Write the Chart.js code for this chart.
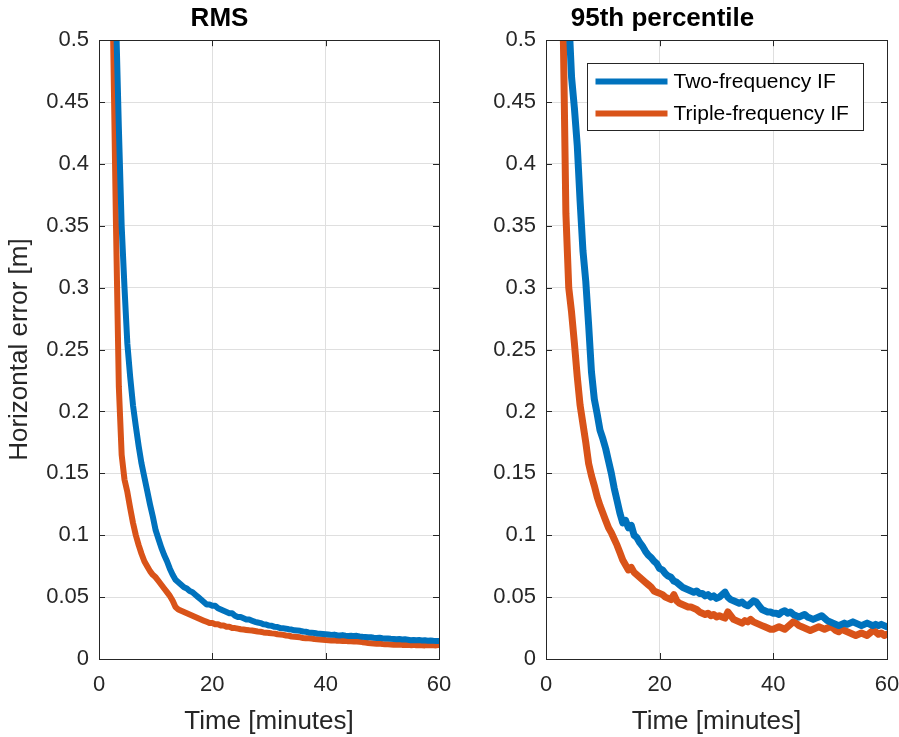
<!DOCTYPE html>
<html><head><meta charset="utf-8">
<script src="https://cdn.jsdelivr.net/npm/chart.js@4.4.1/dist/chart.umd.min.js"></script>
<style>
html,body{margin:0;padding:0;background:#fff;}
#wrap{position:relative;width:899px;height:737px;overflow:hidden;background:#fff;}
.pane{position:absolute;top:0;height:737px;}
#p1{left:0;width:462px;}
#p2{left:438px;width:461px;}
canvas{display:block;}
</style></head><body>
<div id="wrap">
<div class="pane" id="p1"><canvas id="c1" width="462" height="737"></canvas></div>
<div class="pane" id="p2"><canvas id="c2" width="461" height="737"></canvas></div>
</div>
<script>
// Time axis (minutes)
const times = [
  2, 2.5, 3, 3.5, 4, 4.5, 5, 5.5, 6, 6.5,
  7, 7.5, 8, 8.5, 9, 9.5, 10, 10.5, 11, 11.5,
  12, 12.5, 13, 13.5, 14, 14.5, 15, 15.5, 16, 16.5,
  17, 17.5, 18, 18.5, 19, 19.5, 20, 20.5, 21, 21.5,
  22, 22.5, 23, 23.5, 24, 24.5, 25, 25.5, 26, 26.5,
  27, 27.5, 28, 28.5, 29, 29.5, 30, 30.5, 31, 31.5,
  32, 32.5, 33, 33.5, 34, 34.5, 35, 35.5, 36, 36.5,
  37, 37.5, 38, 38.5, 39, 39.5, 40, 40.5, 41, 41.5,
  42, 42.5, 43, 43.5, 44, 44.5, 45, 45.5, 46, 46.5,
  47, 47.5, 48, 48.5, 49, 49.5, 50, 50.5, 51, 51.5,
  52, 52.5, 53, 53.5, 54, 54.5, 55, 55.5, 56, 56.5,
  57, 57.5, 58, 58.5, 59, 59.5, 60
];

// RMS panel
const rmsTwoFreq = [
  0.75, 0.62, 0.52, 0.43, 0.35, 0.30, 0.255, 0.228, 0.205, 0.188,
  0.172, 0.158, 0.147, 0.136, 0.125, 0.115, 0.104, 0.097, 0.090, 0.084,
  0.079, 0.073, 0.068, 0.064, 0.062, 0.060, 0.058, 0.057, 0.055, 0.054,
  0.052, 0.050, 0.048, 0.046, 0.044, 0.044, 0.043, 0.043, 0.041, 0.040,
  0.039, 0.038, 0.037, 0.037, 0.035, 0.034, 0.034, 0.033, 0.032, 0.032,
  0.031, 0.030, 0.0295, 0.029, 0.028, 0.0278, 0.027, 0.0268, 0.026, 0.0258,
  0.025, 0.0248, 0.0245, 0.024, 0.0238, 0.0232, 0.023, 0.0228, 0.0222, 0.022,
  0.0215, 0.0213, 0.021, 0.0206, 0.0204, 0.0202, 0.0200, 0.0198, 0.0195, 0.0197,
  0.0192, 0.0190, 0.0193, 0.0189, 0.0186, 0.0188, 0.0185, 0.0187, 0.0183, 0.0180,
  0.0178, 0.0176, 0.0175, 0.0172, 0.0170, 0.0172, 0.0168, 0.0166, 0.0165, 0.0163,
  0.0162, 0.0160, 0.0161, 0.0158, 0.0159, 0.0156, 0.0152, 0.0154, 0.0151, 0.0153,
  0.0150, 0.0152, 0.0148, 0.0149, 0.0147, 0.0146, 0.0145
];
const rmsTripleFreq = [
  0.80, 0.50, 0.35, 0.22, 0.165, 0.145, 0.135, 0.122, 0.110, 0.100,
  0.092, 0.085, 0.079, 0.075, 0.071, 0.068, 0.066, 0.063, 0.060, 0.057,
  0.054, 0.051, 0.047, 0.042, 0.040, 0.039, 0.038, 0.037, 0.036, 0.035,
  0.034, 0.033, 0.032, 0.031, 0.030, 0.029, 0.029, 0.028, 0.028, 0.027,
  0.027, 0.026, 0.026, 0.025, 0.025, 0.0245, 0.024, 0.0238, 0.0235, 0.0232,
  0.023, 0.0226, 0.0222, 0.022, 0.0215, 0.0213, 0.021, 0.0207, 0.0205, 0.020,
  0.0198, 0.0195, 0.019, 0.0188, 0.0182, 0.018, 0.0178, 0.0175, 0.017, 0.0168,
  0.0167, 0.0165, 0.0162, 0.016, 0.0158, 0.0155, 0.0153, 0.0152, 0.015, 0.0151,
  0.0148, 0.0147, 0.0146, 0.0148, 0.0144, 0.0143, 0.0141, 0.0142, 0.014, 0.0136,
  0.0133, 0.013, 0.0128, 0.0126, 0.0124, 0.0125, 0.0122, 0.012, 0.0119, 0.0118,
  0.0116, 0.0115, 0.0117, 0.0114, 0.0113, 0.0115, 0.0112, 0.0114, 0.0111, 0.0113,
  0.0112, 0.0110, 0.0113, 0.0111, 0.0112, 0.0110, 0.0113
];

// 95th percentile panel
const p95TwoFreq = [
  0.90, 0.75, 0.64, 0.58, 0.52, 0.47, 0.445, 0.415, 0.37, 0.33,
  0.305, 0.27, 0.232, 0.21, 0.198, 0.185, 0.178, 0.170, 0.160, 0.150,
  0.138, 0.128, 0.118, 0.110, 0.112, 0.106, 0.108, 0.100, 0.098, 0.094,
  0.091, 0.087, 0.084, 0.082, 0.079, 0.077, 0.073, 0.072, 0.069, 0.067,
  0.066, 0.063, 0.062, 0.060, 0.058, 0.057, 0.056, 0.055, 0.054, 0.055,
  0.053, 0.053, 0.051, 0.052, 0.050, 0.051, 0.049, 0.050, 0.052, 0.054,
  0.050, 0.048, 0.047, 0.046, 0.045, 0.046, 0.044, 0.043, 0.045, 0.047,
  0.046, 0.043, 0.040, 0.039, 0.038, 0.038, 0.037, 0.037, 0.036, 0.038,
  0.039, 0.037, 0.038, 0.036, 0.035, 0.034, 0.035, 0.036, 0.034, 0.033,
  0.032, 0.033, 0.034, 0.035, 0.033, 0.031, 0.030, 0.029, 0.028, 0.027,
  0.028, 0.029, 0.028, 0.029, 0.030, 0.029, 0.028, 0.027, 0.028, 0.029,
  0.028, 0.027, 0.028, 0.027, 0.028, 0.027, 0.026
];
const p95TripleFreq = [
  0.95, 0.70, 0.52, 0.36, 0.30, 0.28, 0.255, 0.228, 0.205, 0.19,
  0.175, 0.158, 0.148, 0.140, 0.131, 0.124, 0.118, 0.112, 0.106, 0.102,
  0.097, 0.092, 0.086, 0.080, 0.076, 0.072, 0.074, 0.070, 0.068, 0.066,
  0.064, 0.062, 0.060, 0.058, 0.055, 0.054, 0.053, 0.052, 0.050, 0.049,
  0.048, 0.052, 0.047, 0.045, 0.044, 0.043, 0.042, 0.042, 0.041, 0.040,
  0.038, 0.037, 0.036, 0.037, 0.035, 0.036, 0.034, 0.035, 0.034, 0.033,
  0.038, 0.035, 0.032, 0.031, 0.030, 0.029, 0.031, 0.030, 0.032, 0.030,
  0.029, 0.028, 0.027, 0.026, 0.025, 0.024, 0.024, 0.025, 0.026, 0.025,
  0.024, 0.026, 0.028, 0.030, 0.029, 0.027, 0.026, 0.025, 0.024, 0.023,
  0.024, 0.025, 0.026, 0.025, 0.024, 0.025, 0.026, 0.025, 0.023, 0.022,
  0.024, 0.023, 0.022, 0.021, 0.020, 0.019, 0.020, 0.021, 0.020, 0.019,
  0.021, 0.023, 0.022, 0.020, 0.021, 0.019, 0.020
];

const seriesLabels = ['Two-frequency IF', 'Triple-frequency IF'];
const panelTitles = ['RMS', '95th percentile'];
const xTitle = 'Time [minutes]';
const yTitle = 'Horizontal error [m]';

const BLUE = '#0072BD', ORANGE = '#D95319', AX = '#262626';
const FONT = "'Liberation Sans', Arial, Helvetica, sans-serif";

const framePlugin = {
  id: 'frame',
  afterDatasetsDraw(chart, args, opts) {
    const {ctx, chartArea: a} = chart;
    const xs = chart.scales.x, ys = chart.scales.y;
    ctx.save();
    ctx.strokeStyle = AX; ctx.lineWidth = 1;
    const tl = 6;
    ctx.beginPath();
    xs.ticks.forEach(t => {
      const px = Math.round(xs.getPixelForValue(t.value)) + 0.5;
      ctx.moveTo(px, a.bottom); ctx.lineTo(px, a.bottom - tl);
      ctx.moveTo(px, a.top); ctx.lineTo(px, a.top + tl);
    });
    ys.ticks.forEach(t => {
      const py = Math.round(ys.getPixelForValue(t.value)) + 0.5;
      ctx.moveTo(a.left, py); ctx.lineTo(a.left + tl, py);
      ctx.moveTo(a.right, py); ctx.lineTo(a.right - tl, py);
    });
    ctx.stroke();
    ctx.strokeRect(Math.round(a.left) + 0.5, Math.round(a.top) + 0.5,
                   Math.round(a.right - a.left), Math.round(a.bottom - a.top));
    if (opts && opts.legend) {
      const bx = Math.round(a.left + 41) + 0.5, by = Math.round(a.top + 23) + 0.5;
      const bw = 276, bh = 67;
      ctx.fillStyle = '#fff';
      ctx.fillRect(bx, by, bw, bh);
      ctx.strokeStyle = AX; ctx.lineWidth = 1;
      ctx.strokeRect(bx, by, bw, bh);
      ctx.font = '21px ' + FONT;
      ctx.textBaseline = 'middle';
      ctx.textAlign = 'left';
      chart.data.datasets.forEach((ds, i) => {
        const ly = by + 18 + i * 32;
        ctx.strokeStyle = ds.borderColor; ctx.lineWidth = 6;
        ctx.beginPath(); ctx.moveTo(bx + 8, ly); ctx.lineTo(bx + 80, ly); ctx.stroke();
        ctx.fillStyle = '#000';
        ctx.fillText(ds.label, bx + 86, ly + 1);
      });
    }
    ctx.restore();
  }
};

function pts(vals) { return times.map((t, i) => ({x: t, y: vals[i]})); }

function makeChart(id, title, a, b, yAxisWidth, padRight, showYTitle, showLegend, lw) {
  return new Chart(document.getElementById(id), {
    type: 'line',
    data: {
      datasets: [
        {label: seriesLabels[0], data: pts(a), borderColor: BLUE, backgroundColor: BLUE,
         borderWidth: lw, pointRadius: 0, tension: 0, clip: 0, borderJoinStyle: 'round', borderCapStyle: 'round'},
        {label: seriesLabels[1], data: pts(b), borderColor: ORANGE, backgroundColor: ORANGE,
         borderWidth: lw, pointRadius: 0, tension: 0, clip: 0, borderJoinStyle: 'round', borderCapStyle: 'round'}
      ]
    },
    options: {
      responsive: false,
      animation: false,
      devicePixelRatio: 1,
      layout: {padding: {left: 0, right: padRight, top: 0, bottom: 0}},
      plugins: {
        legend: {display: false},
        tooltip: {enabled: false},
        title: {display: true, text: title, color: '#000',
                font: {family: FONT, size: 26, weight: 'bold', lineHeight: 1.2},
                padding: {top: 3, bottom: 6}},
        frame: {legend: showLegend}
      },
      scales: {
        x: {
          type: 'linear', min: 0, max: 60,
          ticks: {stepSize: 20, color: AX, padding: 13, font: {family: FONT, size: 22}, maxRotation: 0},
          grid: {color: '#dfdfdf', lineWidth: 1, drawTicks: false},
          border: {display: false},
          title: {display: true, text: xTitle, color: AX, font: {family: FONT, size: 26}, padding: {top: 0, bottom: 0}},
          afterFit: s => { s.height = 78; s.paddingLeft = 0; s.paddingRight = 0; }
        },
        y: {
          type: 'linear', min: 0, max: 0.5,
          ticks: {stepSize: 0.05, color: AX, padding: 10, font: {family: FONT, size: 22},
                  callback: v => String(+v.toFixed(2))},
          grid: {color: '#dfdfdf', lineWidth: 1, drawTicks: false},
          border: {display: false},
          title: {display: showYTitle, text: yTitle, color: AX, font: {family: FONT, size: 26}, padding: {top: 4, bottom: 0}},
          afterFit: s => { s.width = yAxisWidth; s.paddingTop = 0; s.paddingBottom = 0; }
        }
      }
    },
    plugins: [framePlugin]
  });
}

makeChart('c1', panelTitles[0], rmsTwoFreq, rmsTripleFreq, 99, 23, true, false, 6);
makeChart('c2', panelTitles[1], p95TwoFreq, p95TripleFreq, 108, 12, false, true, 7);
</script>
</body></html>
